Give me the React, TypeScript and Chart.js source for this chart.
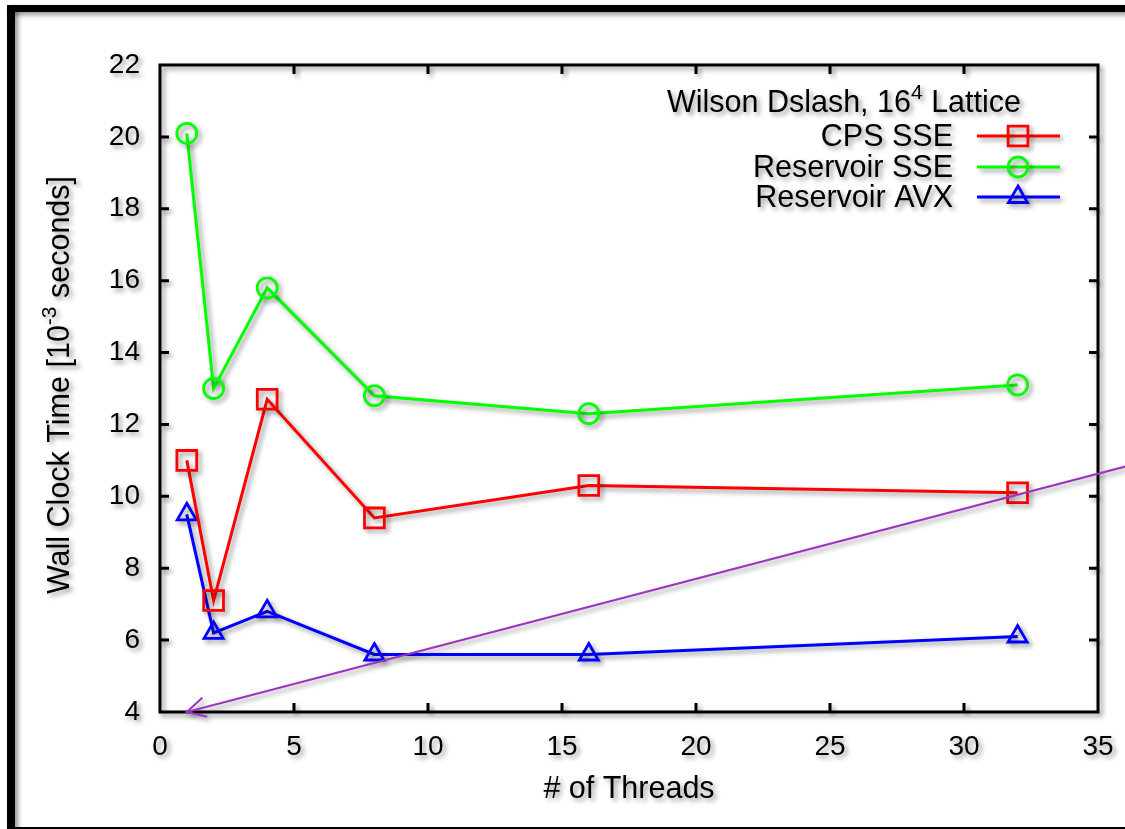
import React, { useEffect, useRef } from "react";
import { Chart, registerables } from "chart.js";

Chart.register(...registerables);

// ---- data ----
const threads = [1, 2, 4, 8, 16, 32];
const cpsSSE = [11.0, 7.1, 12.7, 9.4, 10.3, 10.1];
const reservoirSSE = [20.1, 13.0, 15.8, 12.8, 12.3, 13.1];
const reservoirAVX = [9.5, 6.2, 6.8, 5.6, 5.6, 6.1];
const seriesLabels = ["CPS SSE", "Reservoir SSE", "Reservoir AVX"];
const xTickValues = [0, 5, 10, 15, 20, 25, 30, 35];
const yTickValues = [4, 6, 8, 10, 12, 14, 16, 18, 20, 22];
const arrowFrom = { x: 37, y: 11.02 };
const arrowTo = { x: 1, y: 4 };

const FONT = '"Liberation Sans", Arial, Helvetica, sans-serif';
const COLORS = ["#ff0000", "#00ff00", "#0000ff"];
const STYLES = ["rect", "circle", "triangle"];
const RADII = [14, 10, 11];

type Part = { text: string; sup?: boolean };

function measureParts(ctx: CanvasRenderingContext2D, parts: Part[], size: number) {
  let w = 0;
  for (const p of parts) {
    ctx.font = `${p.sup ? Math.round(size * 0.68) : size}px ${FONT}`;
    w += ctx.measureText(p.text).width;
  }
  return w;
}

function drawParts(
  ctx: CanvasRenderingContext2D,
  parts: Part[],
  x: number,
  y: number,
  size: number,
  align: "left" | "right" | "center"
) {
  const total = measureParts(ctx, parts, size);
  let cx = align === "left" ? x : align === "right" ? x - total : x - total / 2;
  ctx.textAlign = "left";
  ctx.textBaseline = "alphabetic";
  ctx.fillStyle = "#000";
  for (const p of parts) {
    const s = p.sup ? Math.round(size * 0.68) : size;
    ctx.font = `${s}px ${FONT}`;
    ctx.fillText(p.text, cx, p.sup ? y - size * 0.42 : y);
    cx += ctx.measureText(p.text).width;
  }
}

function drawMarker(ctx: CanvasRenderingContext2D, style: string, r: number, x: number, y: number) {
  ctx.beginPath();
  if (style === "rect") {
    const s = r * Math.SQRT1_2;
    ctx.rect(x - s, y - s, 2 * s, 2 * s);
  } else if (style === "circle") {
    ctx.arc(x, y, r, 0, Math.PI * 2);
  } else {
    ctx.moveTo(x, y - r);
    ctx.lineTo(x + r * 0.866, y + r * 0.5);
    ctx.lineTo(x - r * 0.866, y + r * 0.5);
    ctx.closePath();
  }
  ctx.stroke();
}

const shadowPlugin = {
  id: "shadowAll",
  beforeDraw(chart: any) {
    const ctx = chart.ctx as CanvasRenderingContext2D;
    ctx.save();
    ctx.shadowColor = "rgba(0,0,0,0.42)";
    ctx.shadowBlur = 5;
    ctx.shadowOffsetX = 3;
    ctx.shadowOffsetY = 3;
  },
  afterDraw(chart: any) {
    const ctx = chart.ctx as CanvasRenderingContext2D;
    ctx.fillStyle = "#000";
    ctx.fillRect(7, 5, 8, 830);
    ctx.fillRect(7, 5, 1130, 7);
    ctx.restore();
    ctx.save();
    ctx.fillStyle = "#000";
    ctx.fillRect(7, 827, 1130, 2);
    ctx.restore();
  },
};

const framePlugin = {
  id: "frameTicks",
  beforeDatasetsDraw(chart: any) {
    const ctx = chart.ctx as CanvasRenderingContext2D;
    const { left, right, top, bottom } = chart.chartArea;
    const xs = chart.scales.x;
    const ys = chart.scales.y;
    ctx.save();
    ctx.strokeStyle = "#000";
    ctx.lineWidth = 3;
    ctx.beginPath();
    ctx.rect(left, top, right - left, bottom - top);
    ctx.stroke();
    const tl = 9;
    ctx.beginPath();
    xTickValues.slice(1, -1).forEach((v) => {
      const px = xs.getPixelForValue(v);
      ctx.moveTo(px, bottom);
      ctx.lineTo(px, bottom - tl);
      ctx.moveTo(px, top);
      ctx.lineTo(px, top + tl);
    });
    yTickValues.slice(1, -1).forEach((v) => {
      const py = ys.getPixelForValue(v);
      ctx.moveTo(left, py);
      ctx.lineTo(left + tl, py);
      ctx.moveTo(right, py);
      ctx.lineTo(right - tl, py);
    });
    ctx.stroke();
    ctx.restore();
  },
  afterDatasetsDraw(chart: any) {
    const ctx = chart.ctx as CanvasRenderingContext2D;
    const xs = chart.scales.x;
    const ys = chart.scales.y;
    const x0 = xs.getPixelForValue(arrowFrom.x);
    const y0 = ys.getPixelForValue(arrowFrom.y);
    const x1 = xs.getPixelForValue(arrowTo.x);
    const y1 = ys.getPixelForValue(arrowTo.y);
    ctx.save();
    ctx.strokeStyle = "#a033c0";
    ctx.lineWidth = 2;
    ctx.beginPath();
    ctx.moveTo(x0, y0);
    ctx.lineTo(x1, y1);
    const ang = Math.atan2(y0 - y1, x0 - x1);
    const hl = 21;
    const spread = (28 * Math.PI) / 180;
    ctx.moveTo(x1 + hl * Math.cos(ang - spread), y1 + hl * Math.sin(ang - spread));
    ctx.lineTo(x1, y1);
    ctx.lineTo(x1 + hl * Math.cos(ang + spread), y1 + hl * Math.sin(ang + spread));
    ctx.stroke();
    ctx.restore();

    ctx.save();
    drawParts(
      ctx,
      [{ text: "Wilson Dslash, 16" }, { text: "4", sup: true }, { text: " Lattice" }],
      1021,
      112,
      30.5,
      "right"
    );
    const baseY = [146, 177, 207];
    seriesLabels.forEach((lab, i) => {
      drawParts(ctx, [{ text: lab }], 953, baseY[i], 30.5, "right");
      const ly = baseY[i] - 10;
      ctx.strokeStyle = COLORS[i];
      ctx.lineWidth = 3;
      ctx.beginPath();
      ctx.moveTo(977, ly);
      ctx.lineTo(1060, ly);
      ctx.stroke();
      ctx.lineWidth = 2.8;
      drawMarker(ctx, STYLES[i], RADII[i], 1018, ly);
    });

    drawParts(ctx, [{ text: "# of Threads" }], 629, 798, 30.5, "center");
    ctx.save();
    ctx.translate(69, 385);
    ctx.rotate(-Math.PI / 2);
    drawParts(
      ctx,
      [{ text: "Wall Clock Time [10" }, { text: "-3", sup: true }, { text: " seconds]" }],
      0,
      0,
      30.5,
      "center"
    );
    ctx.restore();
    ctx.restore();
  },
};

export default function App() {
  const ref = useRef<HTMLCanvasElement | null>(null);
  useEffect(() => {
    document.body.style.margin = "0";
    const canvas = ref.current!;
    const mk = (i: number, vals: number[]) => ({
      label: seriesLabels[i],
      data: threads.map((t, k) => ({ x: t, y: vals[k] })),
      borderColor: COLORS[i],
      backgroundColor: "rgba(0,0,0,0)",
      borderWidth: 3,
      pointStyle: STYLES[i],
      pointRadius: RADII[i],
      pointBorderWidth: 2.8,
      pointBorderColor: COLORS[i],
      pointBackgroundColor: "rgba(0,0,0,0)",
      tension: 0,
      clip: false as any,
    });
    const chart = new Chart(canvas, {
      type: "line",
      data: {
        datasets: [mk(0, cpsSSE), mk(1, reservoirSSE), mk(2, reservoirAVX)],
      },
      options: {
        animation: false,
        responsive: false,
        maintainAspectRatio: false,
        layout: { padding: { top: 65, right: 27, left: 0, bottom: 0 } },
        plugins: { legend: { display: false }, tooltip: { enabled: false } },
        scales: {
          x: {
            type: "linear",
            min: 0,
            max: 35,
            ticks: {
              stepSize: 5,
              color: "#000",
              font: { family: FONT, size: 28 },
              padding: 18,
              maxRotation: 0,
            },
            grid: { display: false, drawTicks: false },
            border: { display: false },
            afterFit: (s: any) => {
              s.height = 117;
              s.paddingLeft = 0;
              s.paddingRight = 0;
            },
          },
          y: {
            type: "linear",
            min: 4,
            max: 22,
            ticks: {
              stepSize: 2,
              color: "#000",
              font: { family: FONT, size: 28 },
              padding: 20,
            },
            grid: { display: false, drawTicks: false },
            border: { display: false },
            afterFit: (s: any) => {
              s.width = 160;
              s.paddingTop = 0;
              s.paddingBottom = 0;
            },
          },
        },
      },
      plugins: [shadowPlugin, framePlugin],
    });
    return () => chart.destroy();
  }, []);
  return (
    <div style={{ width: 1125, height: 829, position: "relative", background: "#fff" }}>
      <canvas ref={ref} width={1125} height={829} style={{ display: "block", width: 1125, height: 829 }} />
    </div>
  );
}
